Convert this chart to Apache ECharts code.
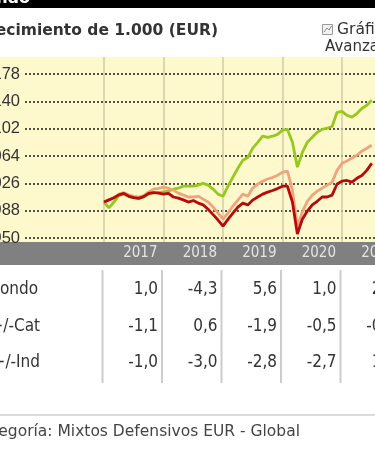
<!DOCTYPE html>
<html><head><meta charset="utf-8">
<script src="https://cdn.jsdelivr.net/npm/echarts@6/dist/echarts.min.js"></script>
<style>html,body{margin:0;padding:0;background:#fff;overflow:hidden}#c{width:375px;height:460px}</style>
</head><body><div id="c"></div>
<script>
// ---- data ----
const months = [
 '2017-01','2017-02','2017-03','2017-04','2017-05','2017-06','2017-07','2017-08','2017-09','2017-10','2017-11','2017-12',
 '2018-01','2018-02','2018-03','2018-04','2018-05','2018-06','2018-07','2018-08','2018-09','2018-10','2018-11','2018-12',
 '2019-01','2019-02','2019-03','2019-04','2019-05','2019-06','2019-07','2019-08','2019-09','2019-10','2019-11','2019-12',
 '2020-01','2020-02','2020-03','2020-04','2020-05','2020-06','2020-07','2020-08','2020-09','2020-10','2020-11','2020-12',
 '2021-01','2021-02','2021-03','2021-04','2021-05','2021-06','2021-07'];
const fund = [1000,1003,1006,1010,1012,1008,1006,1005,1007.5,1012,1013,1012.5,
 1011,1012,1007,1005.5,1003,1000,1002,998.5,996,990,982.5,975,
 966.6,976,984.7,993,998.5,996,1002.7,1007,1011,1013.8,1016,1018.7,
 1022,1022,1000,955.5,976,987.5,996,1001,1007,1007,1009.6,1025,
 1029,1030,1027.7,1033,1037,1044,1054];
const category = [1000,1003,1006,1011,1013,1010,1008,1007,1009,1014,1018,1019,
 1020.7,1019,1016.6,1012.4,1009.6,1007,1007,1008,1004,1000,993,984.7,
 976.4,984.7,994.4,1002.7,1011,1008,1019.4,1025,1029,1032,1034,1037.4,
 1041.5,1043,1016.6,966.6,986,1001,1009.6,1015,1019.4,1023.5,1027.7,1044,
 1054,1057,1061,1065,1070.7,1074.8,1079];
const benchmark = [1000,992,1000,1009,1011,1008,1006,1005,1007,1011,1013,1013,
 1014,1015,1018,1019.4,1022,1022,1022,1023.5,1026,1023.5,1018,1011,
 1008,1022,1034.6,1047,1058,1062,1075,1083,1091.5,1090,1091.5,1094,
 1100,1101,1083,1048.5,1069,1083,1090,1097,1101,1102.6,1105,1124.8,
 1126,1120.6,1118,1123,1130,1134.5,1141.4];
const yTicks = [950,988,1026,1064,1102,1140,1178];
const yearBounds = [2017,2018,2019,2020,2021,2022];
const yearLabels = ['2017','2018','2019','2020','2021'];
const rowNames = ['Fondo','+/-Cat','+/-Ind'];
const rowFondo = ['1,0','-4,3','5,6','1,0','2,2'];
const rowCat = ['-1,1','0,6','-1,9','-0,5','-0,3'];
const rowInd = ['-1,0','-3,0','-2,8','-2,7','1,4'];
const titleText = 'Crecimiento de 1.000 (EUR)';
const footText = 'Categoría: Mixtos Defensivos EUR - Global';

// ---- chart ----
const COND = "'Liberation Sans Narrow','DejaVu Sans Condensed','Arial Narrow',sans-serif";
const toX = m => { const p = m.split('-'); return (+p[0]) + (+p[1] - 1) / 12; };
const mk = arr => arr.map((v, i) => [toX(months[i]), v]);

const chart = echarts.init(document.getElementById('c'), null, {renderer: 'canvas'});
chart.setOption({
  animation: false,
  grid: {left: 25, top: 57, width: 376.5, height: 185, containLabel: false, outerBoundsMode: 'none'},
  xAxis: {
    type: 'value', min: 2015.6723, max: 2022,
    axisLine: {show: false},
    axisTick: {show: false, customValues: yearBounds},
    axisLabel: {customValues: yearBounds.slice(1), showMinLabel: true, showMaxLabel: true, hideOverlap: false,
      formatter: v => yearLabels[Math.round(v) - 2018] || '',
      align: 'right', padding: [0, 6, 0, 0], margin: 4,
      color: '#e4e4e4', fontSize: 15, fontFamily: COND},
    splitLine: {show: true, lineStyle: {color: '#d2caa6', width: 1.5}}
  },
  yAxis: {
    type: 'value', min: 944.44, max: 1201.63,
    axisLine: {show: false},
    axisTick: {show: false, customValues: yTicks},
    axisLabel: {customValues: yTicks, showMinLabel: true, showMaxLabel: true, margin: 5,
      formatter: v => String(v),
      color: '#333', fontSize: 16.5, fontFamily: "'Liberation Sans',Arial,sans-serif"},
    splitLine: {show: true, lineStyle: {color: '#1a1a1a', type: [2, 2], width: 1.5}}
  },
  series: [
    {type: 'line', data: mk(benchmark), showSymbol: false, lineStyle: {color: '#96c81e', width: 2.8}, z: 2},
    {type: 'line', data: mk(category), showSymbol: false, lineStyle: {color: '#f0a47c', width: 2.8}, z: 3},
    {type: 'line', data: mk(fund), showSymbol: false, lineStyle: {color: '#b80a0a', width: 2.8}, z: 4}
  ]
});

const px = v => chart.convertToPixel({xAxisIndex: 0}, v);
const g = [];
g.push({type: 'rect', z: -10, shape: {x: 0, y: 57, width: 375, height: 185}, style: {fill: '#fdf9cc'}});
g.push({type: 'rect', z: -10, shape: {x: 0, y: 242, width: 375, height: 23}, style: {fill: '#808080'}});
g.push({type: 'rect', shape: {x: 0, y: 0, width: 375, height: 8}, style: {fill: '#000'}});
g.push({type: 'text', style: {text: 'Fondo', x: 30, y: 7, align: 'right', verticalAlign: 'bottom', fill: '#fff', font: "bold 16px 'DejaVu Sans',sans-serif"}});
g.push({type: 'text', style: {text: titleText, x: 218, y: 31, align: 'right', verticalAlign: 'middle', fill: '#333', font: "bold 15.5px 'DejaVu Sans',sans-serif"}});
g.push({type: 'rect', shape: {x: 322.5, y: 24.5, width: 10, height: 10}, style: {fill: '#f2f2f2', stroke: '#9a9a9a', lineWidth: 1}});
g.push({type: 'polyline', shape: {points: [[324, 32], [327, 28], [329, 30], [331.5, 26]]}, style: {stroke: '#8a8a8a', lineWidth: 1, fill: null}});
g.push({type: 'text', style: {text: 'Gráfico', x: 337, y: 30, align: 'left', verticalAlign: 'middle', fill: '#333', font: "15.5px 'DejaVu Sans',sans-serif"}});
g.push({type: 'text', style: {text: 'Avanzado', x: 325, y: 47, align: 'left', verticalAlign: 'middle', fill: '#333', font: "15px 'DejaVu Sans',sans-serif"}});
// table
const rows = [rowFondo, rowCat, rowInd];
const rowY = [290, 327, 363];
for (let i = 0; i < 5; i++) {
  g.push({type: 'line', shape: {x1: px(yearBounds[i]) - 1.5, y1: 270, x2: px(yearBounds[i]) - 1.5, y2: 383}, style: {stroke: '#cccccc', lineWidth: 2}});
}
rows.forEach((r, ri) => {
  g.push({type: 'text', style: {text: rowNames[ri], x: ri === 0 ? 38 : 40, y: rowY[ri], align: 'right', verticalAlign: 'middle', fill: '#333', font: '17px ' + COND}});
  r.forEach((t, ci) => {
    g.push({type: 'text', style: {text: t, x: px(yearBounds[ci + 1]) - 5.5, y: rowY[ri], align: 'right', verticalAlign: 'middle', fill: '#333', font: '17px ' + COND}});
  });
});
g.push({type: 'line', shape: {x1: 0, y1: 415, x2: 375, y2: 415}, style: {stroke: '#cfcfcf', lineWidth: 1.5}});
g.push({type: 'text', style: {text: footText, x: 300, y: 432, align: 'right', verticalAlign: 'middle', fill: '#444', font: "15.5px 'DejaVu Sans',sans-serif"}});
chart.setOption({graphic: {elements: g}});
</script>
</body></html>
